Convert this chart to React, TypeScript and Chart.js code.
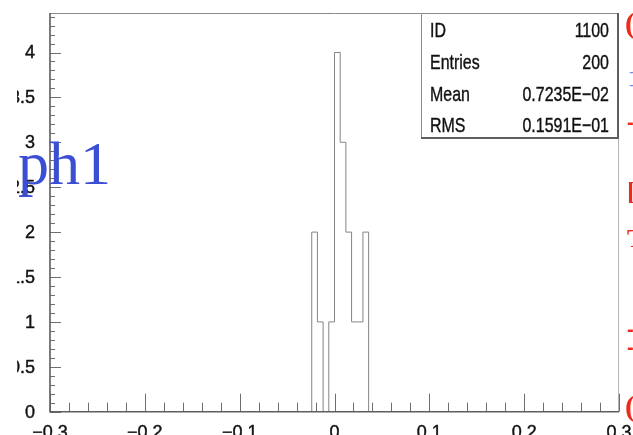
import React, { useEffect, useRef } from "react";
import { Chart, registerables } from "chart.js";

Chart.register(...registerables);

// ---- data ----
const binEdges = [-0.3, -0.024, -0.018, -0.012, -0.006, 0, 0.006, 0.012, 0.018, 0.024, 0.03, 0.036, 0.3];
const binCounts = [0, 2, 1, 0, 1, 4, 3, 2, 1, 1, 2, 0, 0];
const xTickValues = [-0.3, -0.2, -0.1, 0, 0.1, 0.2, 0.3];
const xTickLabels = ["\u22120.3", "\u22120.2", "\u22120.1", "0", "0.1", "0.2", "0.3"];
const yTickValues = [0, 0.5, 1, 1.5, 2, 2.5, 3, 3.5, 4];
const yTickLabels = ["0", "0.5", "1", "1.5", "2", "2.5", "3", "3.5", "4"];
const statNames = ["ID", "Entries", "Mean", "RMS"];
const statValues = ["1100", "200", "0.7235E\u221202", "0.1591E\u221201"];
const histTitle = "ph1";

const X_MIN = -0.3;
const X_MAX = 0.3;
const Y_MIN = 0;
const Y_MAX = 4.44;
const X_MINOR = 0.02;
const Y_MINOR = 0.1;

function narrowText(
  ctx: CanvasRenderingContext2D,
  text: string,
  x: number,
  y: number,
  size: number,
  align: CanvasTextAlign,
  baseline: CanvasTextBaseline,
  color: string,
  sx = 0.8,
  weight = 0.5
) {
  ctx.save();
  ctx.translate(x, y);
  ctx.scale(sx, 1);
  ctx.font = `${size}px "Liberation Sans", Arial, sans-serif`;
  ctx.textAlign = align;
  ctx.textBaseline = baseline;
  ctx.fillStyle = color;
  ctx.fillText(text, 0, 0);
  if (weight > 0) {
    ctx.strokeStyle = color;
    ctx.lineWidth = weight;
    ctx.strokeText(text, 0, 0);
  }
  ctx.restore();
}

const decorPlugin = {
  id: "pawDecor",
  afterDraw(chart: any) {
    const ctx: CanvasRenderingContext2D = chart.ctx;
    const a = chart.chartArea;
    const xs = chart.scales.x;
    const ys = chart.scales.y;
    ctx.save();

    // minor / major ticks (inward)
    ctx.strokeStyle = "#6e6e6e";
    ctx.lineWidth = 1;
    ctx.beginPath();
    const nx = Math.round((X_MAX - X_MIN) / X_MINOR);
    for (let i = 0; i <= nx; i++) {
      const v = X_MIN + i * X_MINOR;
      const px = Math.round(xs.getPixelForValue(v)) + 0.5;
      const len = i % 5 === 0 ? 18 : 9;
      ctx.moveTo(px, a.bottom);
      ctx.lineTo(px, a.bottom - len);
    }
    const ny = Math.floor((Y_MAX - Y_MIN) / Y_MINOR + 1e-6);
    for (let i = 0; i <= ny; i++) {
      const v = Y_MIN + i * Y_MINOR;
      const py = Math.round(ys.getPixelForValue(v)) + 0.5;
      const len = i % 5 === 0 ? 11 : 5;
      ctx.moveTo(a.left, py);
      ctx.lineTo(a.left + len, py);
    }
    ctx.stroke();

    // frame
    ctx.strokeStyle = "#8a8a8a";
    ctx.lineWidth = 1;
    ctx.beginPath();
    ctx.moveTo(a.left, a.top + 0.5);
    ctx.lineTo(a.right, a.top + 0.5);
    ctx.stroke();
    ctx.strokeStyle = "#b5b5b5";
    ctx.beginPath();
    ctx.moveTo(a.right - 0.5, a.top);
    ctx.lineTo(a.right - 0.5, a.bottom);
    ctx.stroke();
    ctx.strokeStyle = "#5e5e5e";
    ctx.lineWidth = 1.6;
    ctx.beginPath();
    ctx.moveTo(a.left, a.top);
    ctx.lineTo(a.left, a.bottom);
    ctx.lineTo(a.right, a.bottom);
    ctx.stroke();

    // tick labels (clipped on the left like the source)
    ctx.save();
    ctx.beginPath();
    ctx.rect(17, 0, 700, 500);
    ctx.clip();
    yTickValues.forEach((v, i) => {
      narrowText(ctx, yTickLabels[i], 35, ys.getPixelForValue(v) + 1, 18, "right", "middle", "#111", 1, 0.4);
    });
    xTickValues.forEach((v, i) => {
      narrowText(ctx, xTickLabels[i], xs.getPixelForValue(v), 438, 18, "center", "alphabetic", "#111", 1, 0.4);
    });
    ctx.restore();

    // stats box
    const bx0 = 421, by0 = a.top, bx1 = a.right, by1 = 139;
    ctx.fillStyle = "#fff";
    ctx.fillRect(bx0, by0, bx1 - bx0, by1 - by0);
    ctx.strokeStyle = "#8a8a8a";
    ctx.lineWidth = 1;
    ctx.beginPath();
    ctx.moveTo(bx0 + 0.5, by1);
    ctx.lineTo(bx0 + 0.5, by0 + 0.5);
    ctx.lineTo(bx1, by0 + 0.5);
    ctx.stroke();
    ctx.strokeStyle = "#5e5e5e";
    ctx.lineWidth = 2;
    ctx.beginPath();
    ctx.moveTo(bx1 - 1, by0);
    ctx.lineTo(bx1 - 1, by1 - 1);
    ctx.lineTo(bx0, by1 - 1);
    ctx.stroke();
    const rowBase = [37, 69, 101, 132];
    statNames.forEach((n, i) => {
      narrowText(ctx, n, 430, rowBase[i], 21, "left", "alphabetic", "#111", 0.76, 0.4);
      narrowText(ctx, statValues[i], 609, rowBase[i], 21, "right", "alphabetic", "#111", 0.76, 0.4);
    });

    // title
    ctx.font = '62px "Liberation Serif", "Times New Roman", serif';
    ctx.fillStyle = "#3b4fd4";
    ctx.textAlign = "left";
    ctx.textBaseline = "alphabetic";
    ctx.fillText(histTitle, 18, 184);

    // clipped fragments of neighbouring text at the right edge
    const red = "#ee2a1a";
    ctx.font = 'bold 30px "Liberation Serif", serif';
    ctx.fillStyle = red;
    ctx.fillText("(", 625, 33);
    ctx.fillText("(", 625, 416);
    ctx.font = 'bold 26px "Liberation Serif", serif';
    ctx.fillText("[", 627, 200);
    ctx.fillText("T", 627, 247);
    ctx.font = 'bold 20px "Liberation Sans", sans-serif';
    ctx.fillText("-", 627, 129);
    ctx.fillText("-", 627, 336);
    ctx.fillText("-", 627, 354);
    ctx.fillStyle = "#6f8fe0";
    ctx.font = '16px "Liberation Sans", sans-serif';
    ctx.fillText("-", 629, 77);
    ctx.fillText("-", 629, 90);

    ctx.restore();
  },
};

export default function App() {
  const ref = useRef<HTMLCanvasElement | null>(null);
  useEffect(() => {
    if (!ref.current) return;
    const pts = binEdges.map((e, i) => ({ x: e, y: binCounts[i] }));
    const chart = new Chart(ref.current, {
      type: "line",
      data: {
        datasets: [
          {
            data: pts,
            stepped: "before",
            borderColor: "#858585",
            borderWidth: 1,
            pointRadius: 0,
            fill: false,
          } as any,
        ],
      },
      options: {
        animation: false,
        responsive: false,
        devicePixelRatio: 1,
        layout: { padding: { left: 50, right: 14, top: 13, bottom: 23.3 } },
        plugins: { legend: { display: false }, tooltip: { enabled: false } },
        scales: {
          x: { type: "linear", min: X_MIN, max: X_MAX, display: false },
          y: { type: "linear", min: Y_MIN, max: Y_MAX, display: false },
        },
      },
      plugins: [decorPlugin],
    });
    return () => chart.destroy();
  }, []);
  return (
    <div style={{ position: "absolute", left: 0, top: 0, width: 633, height: 435, background: "#fff" }}>
      <canvas ref={ref} width={633} height={435} style={{ display: "block" }} />
    </div>
  );
}
